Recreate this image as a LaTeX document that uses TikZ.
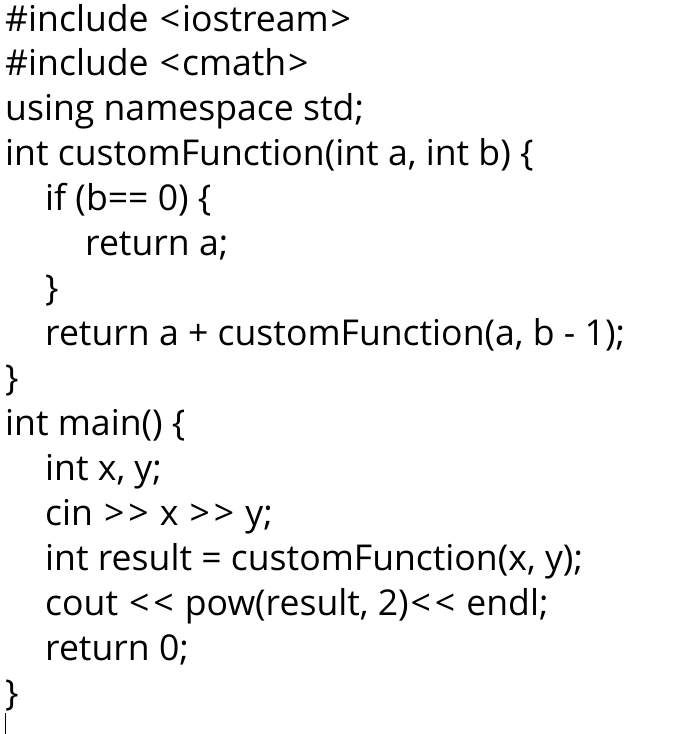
\documentclass[tikz,border=0pt]{standalone}
\usepackage{fontspec}
\setmainfont{Open Sans}[Ligatures=TeXOff]
\usetikzlibrary{positioning}

\newcommand{\ltsign}{\kern1.9pt<\kern1.9pt}
\newcommand{\gtsign}{\kern1.9pt>\kern1.9pt}

\tikzset{
  codeline/.style={anchor=base west, inner sep=0pt, font=\fontsize{35.6}{40}\selectfont},
}

\begin{document}
\begin{tikzpicture}[x=1pt,y=-1pt]
  \useasboundingbox[fill=white] (0,0) rectangle (683,734);
  % level 0 at x=5, level 1 at x=45, level 2 at x=85; pitch 44.93
  \node[codeline] (inc1)   at (5,31)     {\#include \ltsign iostream\gtsign};
  \node[codeline] (inc2)   at (5,75.9)   {\#include \ltsign cmath\gtsign};
  \node[codeline] (ns)     at (5,120.9)  {using namespace std;};
  \node[codeline] (fhead)  at (5,165.8)  {int customFunction(int a, int b) \{};
  \node[codeline] (fif)    at (45,210.7) {if (b== 0) \{};
  \node[codeline] (fret1)  at (85,255.7) {return a;};
  \node[codeline] (fifend) at (45,300.6) {\}};
  \node[codeline] (fret2)  at (45,345.5) {return a + customFunction(a, b - 1);};
  \node[codeline] (fend)   at (5,390.4)  {\}};
  \node[codeline] (mhead)  at (5,435.4)  {int main() \{};
  \node[codeline] (mdecl)  at (45,480.3) {int x, y;};
  \node[codeline] (mcin)   at (45,525.2) {cin \gtsign\gtsign{} x \gtsign\gtsign{} y;};
  \node[codeline] (mres)   at (45,570.2) {int result = customFunction(x, y);};
  \node[codeline] (mcout)  at (45,615.1) {cout \ltsign\ltsign{} pow(result, 2)\ltsign\ltsign{} endl;};
  \node[codeline] (mret)   at (45,660)   {return 0;};
  \node[codeline] (mend)   at (5,705)    {\}};
  % text cursor
  \draw[line width=0.8pt] (5.5,713) -- (5.5,734);
\end{tikzpicture}
\end{document}
